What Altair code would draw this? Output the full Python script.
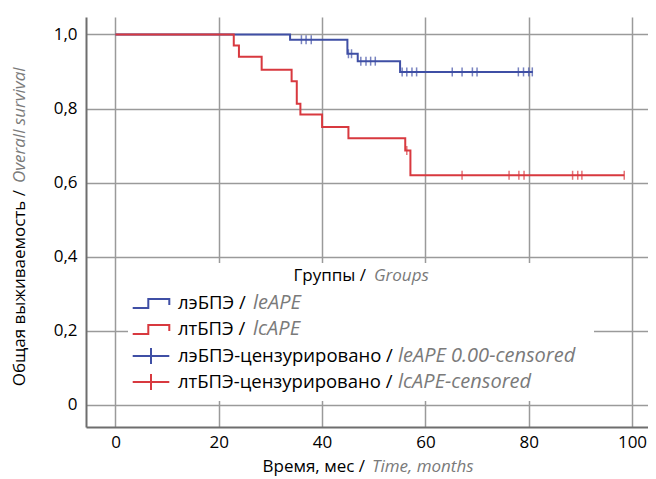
import altair as alt
import pandas as pd

# ---- data ----
blue_t = [0, 33.8, 44.9, 46.9, 55.1, 80.8]
blue_s = [1.0, 0.986, 0.948, 0.928, 0.899, 0.899]
red_t = [0, 22.9, 23.9, 28.3, 34.1, 35.1, 35.8, 40.0, 45.1, 56.1, 57.1, 98.5]
red_s = [1.0, 0.97, 0.94, 0.905, 0.874, 0.813, 0.784, 0.75, 0.72, 0.687, 0.62, 0.62]
blue_cens_t = [36.0, 36.9, 37.9, 45.1, 45.7, 47.5, 48.5, 49.4, 50.3,
               55.5, 56.4, 57.4, 58.3, 65.2, 67.1, 69.1, 70.0, 78.0, 79.0, 80.0, 80.7]
red_cens_t = [56.4, 67.1, 76.2, 78.1, 79.1, 88.5, 89.5, 90.3, 98.5]

x_ticks = [0, 20, 40, 60, 80, 100]
y_ticks = [0, 0.2, 0.4, 0.6, 0.8, 1.0]

legend_black = ["лэБПЭ /", "лтБПЭ /", "лэБПЭ-цензурировано /", "лтБПЭ-цензурировано /"]
legend_gray = ["leAPE", "lcAPE", "leAPE 0.00-censored", "lcAPE-censored"]
legend_title = ("Группы /", "Groups")
x_title = ("Время, мес /", "Time, months")
y_title = ("Общая выживаемость /", "Overall survival")

FONT = "Open Sans"
FS = 17
CURVE_BLUE = "#3f4fa5"
CURVE_RED = "#d8393f"
LEG_BLUE = "#2b3990"
LEG_RED = "#e8202a"
GRAY_TXT = "#7a7a7a"

W, H = 562, 410
XDOM = [-5.71, 103.1]
YDOM = [-0.0594, 1.0472]


def level(ts, ss, t):
    v = ss[0]
    for ti, si in zip(ts, ss):
        if ti <= t:
            v = si
    return v


curves = pd.DataFrame(
    [{"t": t, "s": s, "g": "blue"} for t, s in zip(blue_t, blue_s)]
    + [{"t": t, "s": s, "g": "red"} for t, s in zip(red_t, red_s)]
)
cens = pd.DataFrame(
    [{"t": t, "s": level(blue_t, blue_s, t), "g": "blue"} for t in blue_cens_t]
    + [{"t": t, "s": level(red_t, red_s, t), "g": "red"} for t in red_cens_t]
)

xs = alt.Scale(domain=XDOM, nice=False, zero=False)
ys = alt.Scale(domain=YDOM, nice=False, zero=False)
col = alt.Scale(domain=["blue", "red"], range=[CURVE_BLUE, CURVE_RED])

xaxis = alt.Axis(values=x_ticks, grid=True, ticks=False, title=None,
                 labelFont=FONT, labelFontSize=FS, labelColor="black",
                 labelPadding=7, domainColor="#6e6e6e", domainWidth=2,
                 gridColor="#9a9a9a", gridWidth=1.5)
yaxis = alt.Axis(values=y_ticks, grid=True, ticks=False, title=None,
                 labelFont=FONT, labelFontSize=FS, labelColor="black",
                 labelPadding=9, domainColor="#6e6e6e", domainWidth=2,
                 gridColor="#9a9a9a", gridWidth=1.5,
                 labelExpr="datum.value == 0 ? '0' : replace(format(datum.value, '.1f'), '.', ',')")

base_axes = alt.Chart(pd.DataFrame({"t": [0], "s": [0]})).mark_point(opacity=0).encode(
    x=alt.X("t:Q", scale=xs, axis=xaxis),
    y=alt.Y("s:Q", scale=ys, axis=yaxis),
)

lines = alt.Chart(curves).mark_line(interpolate="step-after", strokeWidth=2).encode(
    x=alt.X("t:Q", scale=xs),
    y=alt.Y("s:Q", scale=ys),
    color=alt.Color("g:N", scale=col, legend=None),
)

ticks = alt.Chart(cens).mark_tick(orient="vertical", size=9, thickness=1.5).encode(
    x=alt.X("t:Q", scale=xs),
    y=alt.Y("s:Q", scale=ys),
    color=alt.Color("g:N", scale=col, legend=None),
)

# ---- legend box (pixel coordinates inside the plot area) ----
box = alt.Chart(pd.DataFrame({"a": [0]})).mark_rect(color="white").encode(
    x=alt.value(42), x2=alt.value(508), y=alt.value(246), y2=alt.value(384)
)

row_y = [286, 312, 339, 365]
step_pts = []
for i, (c, y0) in enumerate([("b", row_y[0]), ("r", row_y[1])]):
    pts = [(46.7, y0 + 5), (62.3, y0 + 5), (62.3, y0 - 4), (83.3, y0 - 4), (83.3, y0 + 2)]
    for k, (px, py) in enumerate(pts):
        step_pts.append({"px": px, "py": py, "k": k, "c": c})
step_df = pd.DataFrame(step_pts)
leg_col = alt.Scale(domain=["b", "r"], range=[LEG_BLUE, LEG_RED])
steps = alt.Chart(step_df).mark_line(strokeWidth=2).encode(
    x=alt.X("px:Q", scale=None), y=alt.Y("py:Q", scale=None),
    order="k:Q", color=alt.Color("c:N", scale=leg_col, legend=None),
)

cross_df = pd.DataFrame({
    "x1": [46.7, 65, 46.7, 65], "x2": [83.3, 65, 83.3, 65],
    "y1": [row_y[2], row_y[2] - 8, row_y[3], row_y[3] - 8],
    "y2": [row_y[2], row_y[2] + 8, row_y[3], row_y[3] + 8],
    "c": ["b", "b", "r", "r"],
})
crosses = alt.Chart(cross_df).mark_rule(strokeWidth=2).encode(
    x=alt.X("x1:Q", scale=None), x2="x2:Q",
    y=alt.Y("y1:Q", scale=None), y2="y2:Q",
    color=alt.Color("c:N", scale=leg_col, legend=None),
)

leg_txt = pd.DataFrame({
    "black": legend_black, "gray": legend_gray, "py": row_y,
    "gx": [167, 167, 312, 312],
})
leg_black = alt.Chart(leg_txt).mark_text(align="left", baseline="middle", font=FONT,
                                         fontSize=18.5, color="black").encode(
    x=alt.value(92), y=alt.Y("py:Q", scale=None), text="black:N")
leg_gray = alt.Chart(leg_txt).mark_text(align="left", baseline="middle", font=FONT,
                                        fontSize=20, fontStyle="italic", color=GRAY_TXT).encode(
    x=alt.X("gx:Q", scale=None), y=alt.Y("py:Q", scale=None), text="gray:N")

def split_text(parts, bx, by, gx, gy, angle=0):
    d = pd.DataFrame({"b": [parts[0]], "g": [parts[1]]})
    kw = {"angle": angle} if angle else {}
    t1 = alt.Chart(d).mark_text(align="right", baseline="middle", font=FONT, fontSize=FS,
                                color="black", **kw).encode(
        x=alt.value(bx), y=alt.value(by), text="b:N")
    t2 = alt.Chart(d).mark_text(align="left", baseline="middle", font=FONT, fontSize=FS,
                                fontStyle="italic", color=GRAY_TXT, **kw).encode(
        x=alt.value(gx), y=alt.value(gy), text="g:N")
    return t1 + t2

leg_title = split_text(legend_title, 280, 259, 288, 259)
xt = split_text(x_title, 279, 450, 286, 450)
yt = split_text(y_title, -66, 173, -66, 166, angle=270)

chart = alt.layer(
    base_axes, box, lines, ticks, steps, crosses, leg_black, leg_gray, leg_title, xt, yt
).properties(
    width=W, height=H,
    autosize=alt.AutoSizeParams(type="none"),
    padding={"left": 78, "top": 9, "right": 0, "bottom": 50},
).configure_view(stroke=None)

chart.save("out.html", embed_options={"renderer": "svg", "actions": False})
